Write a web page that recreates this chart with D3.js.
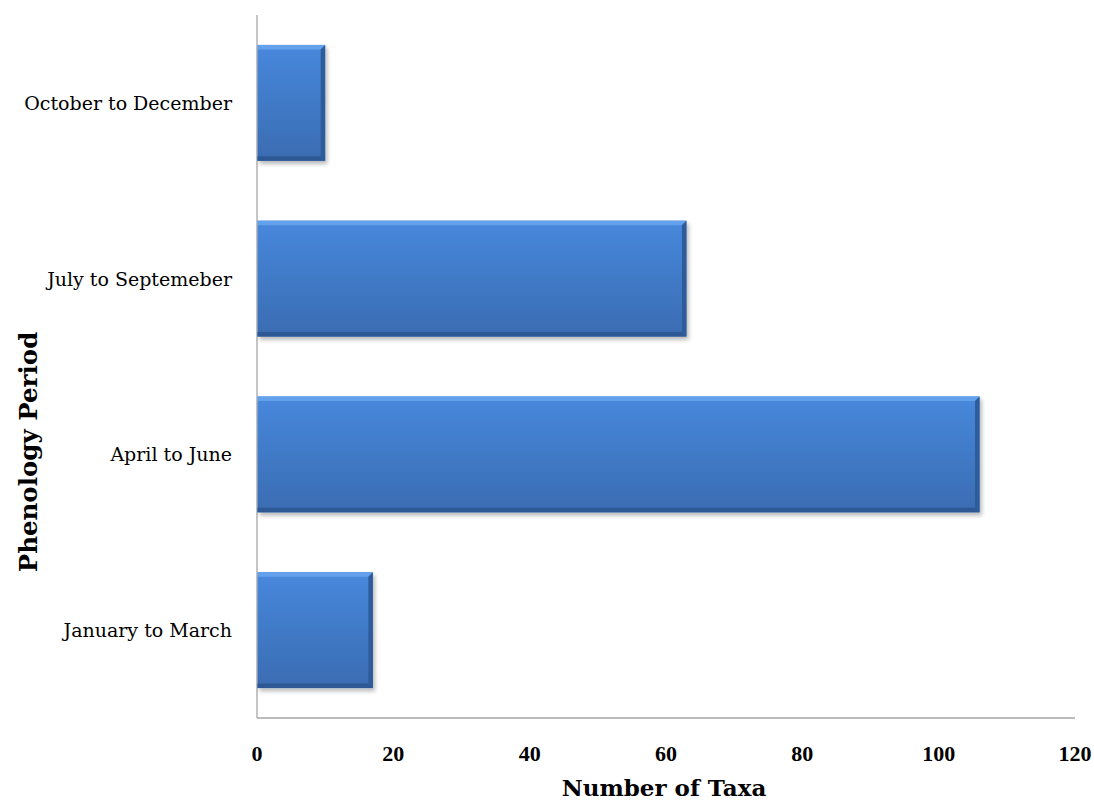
<!DOCTYPE html>
<html><head><meta charset="utf-8">
<script src="https://cdn.jsdelivr.net/npm/d3@7"></script>
<style>body{margin:0;background:#fff}</style>
</head><body>
<svg id="chart" width="1094" height="803"></svg>
<script>
const categories = ["October to December","July to Septemeber","April to June","January to March"];
const values = [10, 63, 106, 17];
const xTicks = [0,20,40,60,80,100,120];
const xTitle = "Number of Taxa";
const yTitle = "Phenology Period";

const svg = d3.select("#chart");
const pLeft=257, pRight=1075, pTop=15, pBottom=718;
const x = d3.scaleLinear().domain([0,120]).range([pLeft,pRight]);
const y = d3.scaleBand().domain(categories).range([pTop,pBottom]).paddingInner(0.34).paddingOuter(0.17);

const defs = svg.append("defs");
const g = defs.append("linearGradient").attr("id","barGrad").attr("x1",0).attr("y1",0).attr("x2",0).attr("y2",1);
g.append("stop").attr("offset","0%").attr("stop-color","#4788dc");
g.append("stop").attr("offset","100%").attr("stop-color","#3a6cb2");
const f = defs.append("filter").attr("id","shadow").attr("x","-5%").attr("y","-5%").attr("width","115%").attr("height","130%");
f.append("feGaussianBlur").attr("in","SourceAlpha").attr("stdDeviation",2);
f.append("feOffset").attr("dx",1.5).attr("dy",2.5).attr("result","ob");
f.append("feComponentTransfer").append("feFuncA").attr("type","linear").attr("slope",0.28);
const fm = f.append("feMerge"); fm.append("feMergeNode"); fm.append("feMergeNode").attr("in","SourceGraphic");

svg.append("line").attr("x1",x(0)).attr("x2",x(0)).attr("y1",pTop).attr("y2",pBottom).attr("stroke","#a6a6a6").attr("stroke-width",1.3);
svg.append("line").attr("x1",x(0)).attr("x2",pRight).attr("y1",pBottom).attr("y2",pBottom).attr("stroke","#a6a6a6").attr("stroke-width",1.3);

const b = 4.5;
const bars = svg.append("g").selectAll("g").data(categories.map((c,i)=>({c,v:values[i]}))).join("g").attr("filter","url(#shadow)");
bars.each(function(d){
  const el = d3.select(this);
  const x0 = x(0)+0.5, x1 = x(d.v), y0 = y(d.c), y1 = y(d.c)+y.bandwidth();
  el.append("rect").attr("x",x0).attr("y",y0).attr("width",x1-x0).attr("height",y1-y0).attr("fill","url(#barGrad)");
  el.append("polygon").attr("points",[[x0,y0],[x1,y0],[x1-b,y0+b],[x0,y0+b]].join(" ")).attr("fill","#6aa6ef").attr("opacity",0.85);
  el.append("polygon").attr("points",[[x1,y0],[x1,y1],[x1-b,y1-b],[x1-b,y0+b]].join(" ")).attr("fill","#2f5c9a");
  el.append("polygon").attr("points",[[x0,y1],[x1,y1],[x1-b,y1-b],[x0,y1-b]].join(" ")).attr("fill","#2e5894");
});

svg.append("g").selectAll("text").data(xTicks).join("text")
  .attr("x",d=>x(d)).attr("y",761).attr("text-anchor","middle")
  .attr("font-family","Liberation Serif").attr("font-weight","bold").attr("font-size",22).attr("fill","#000")
  .text(d=>d);

svg.append("g").selectAll("text").data(categories).join("text")
  .attr("x",232).attr("y",d=>y(d)+y.bandwidth()/2+7).attr("text-anchor","end")
  .attr("font-family","DejaVu Serif").attr("font-size",19).attr("fill","#000")
  .text(d=>d);

svg.append("text").attr("x",664).attr("y",796).attr("text-anchor","middle")
  .attr("font-family","DejaVu Serif").attr("font-weight","bold").attr("font-size",23).text(xTitle);
svg.append("text").attr("transform","translate(37,452) rotate(-90)").attr("text-anchor","middle")
  .attr("font-family","DejaVu Serif").attr("font-weight","bold").attr("font-size",24.5).text(yTitle);
</script>
</body></html>
